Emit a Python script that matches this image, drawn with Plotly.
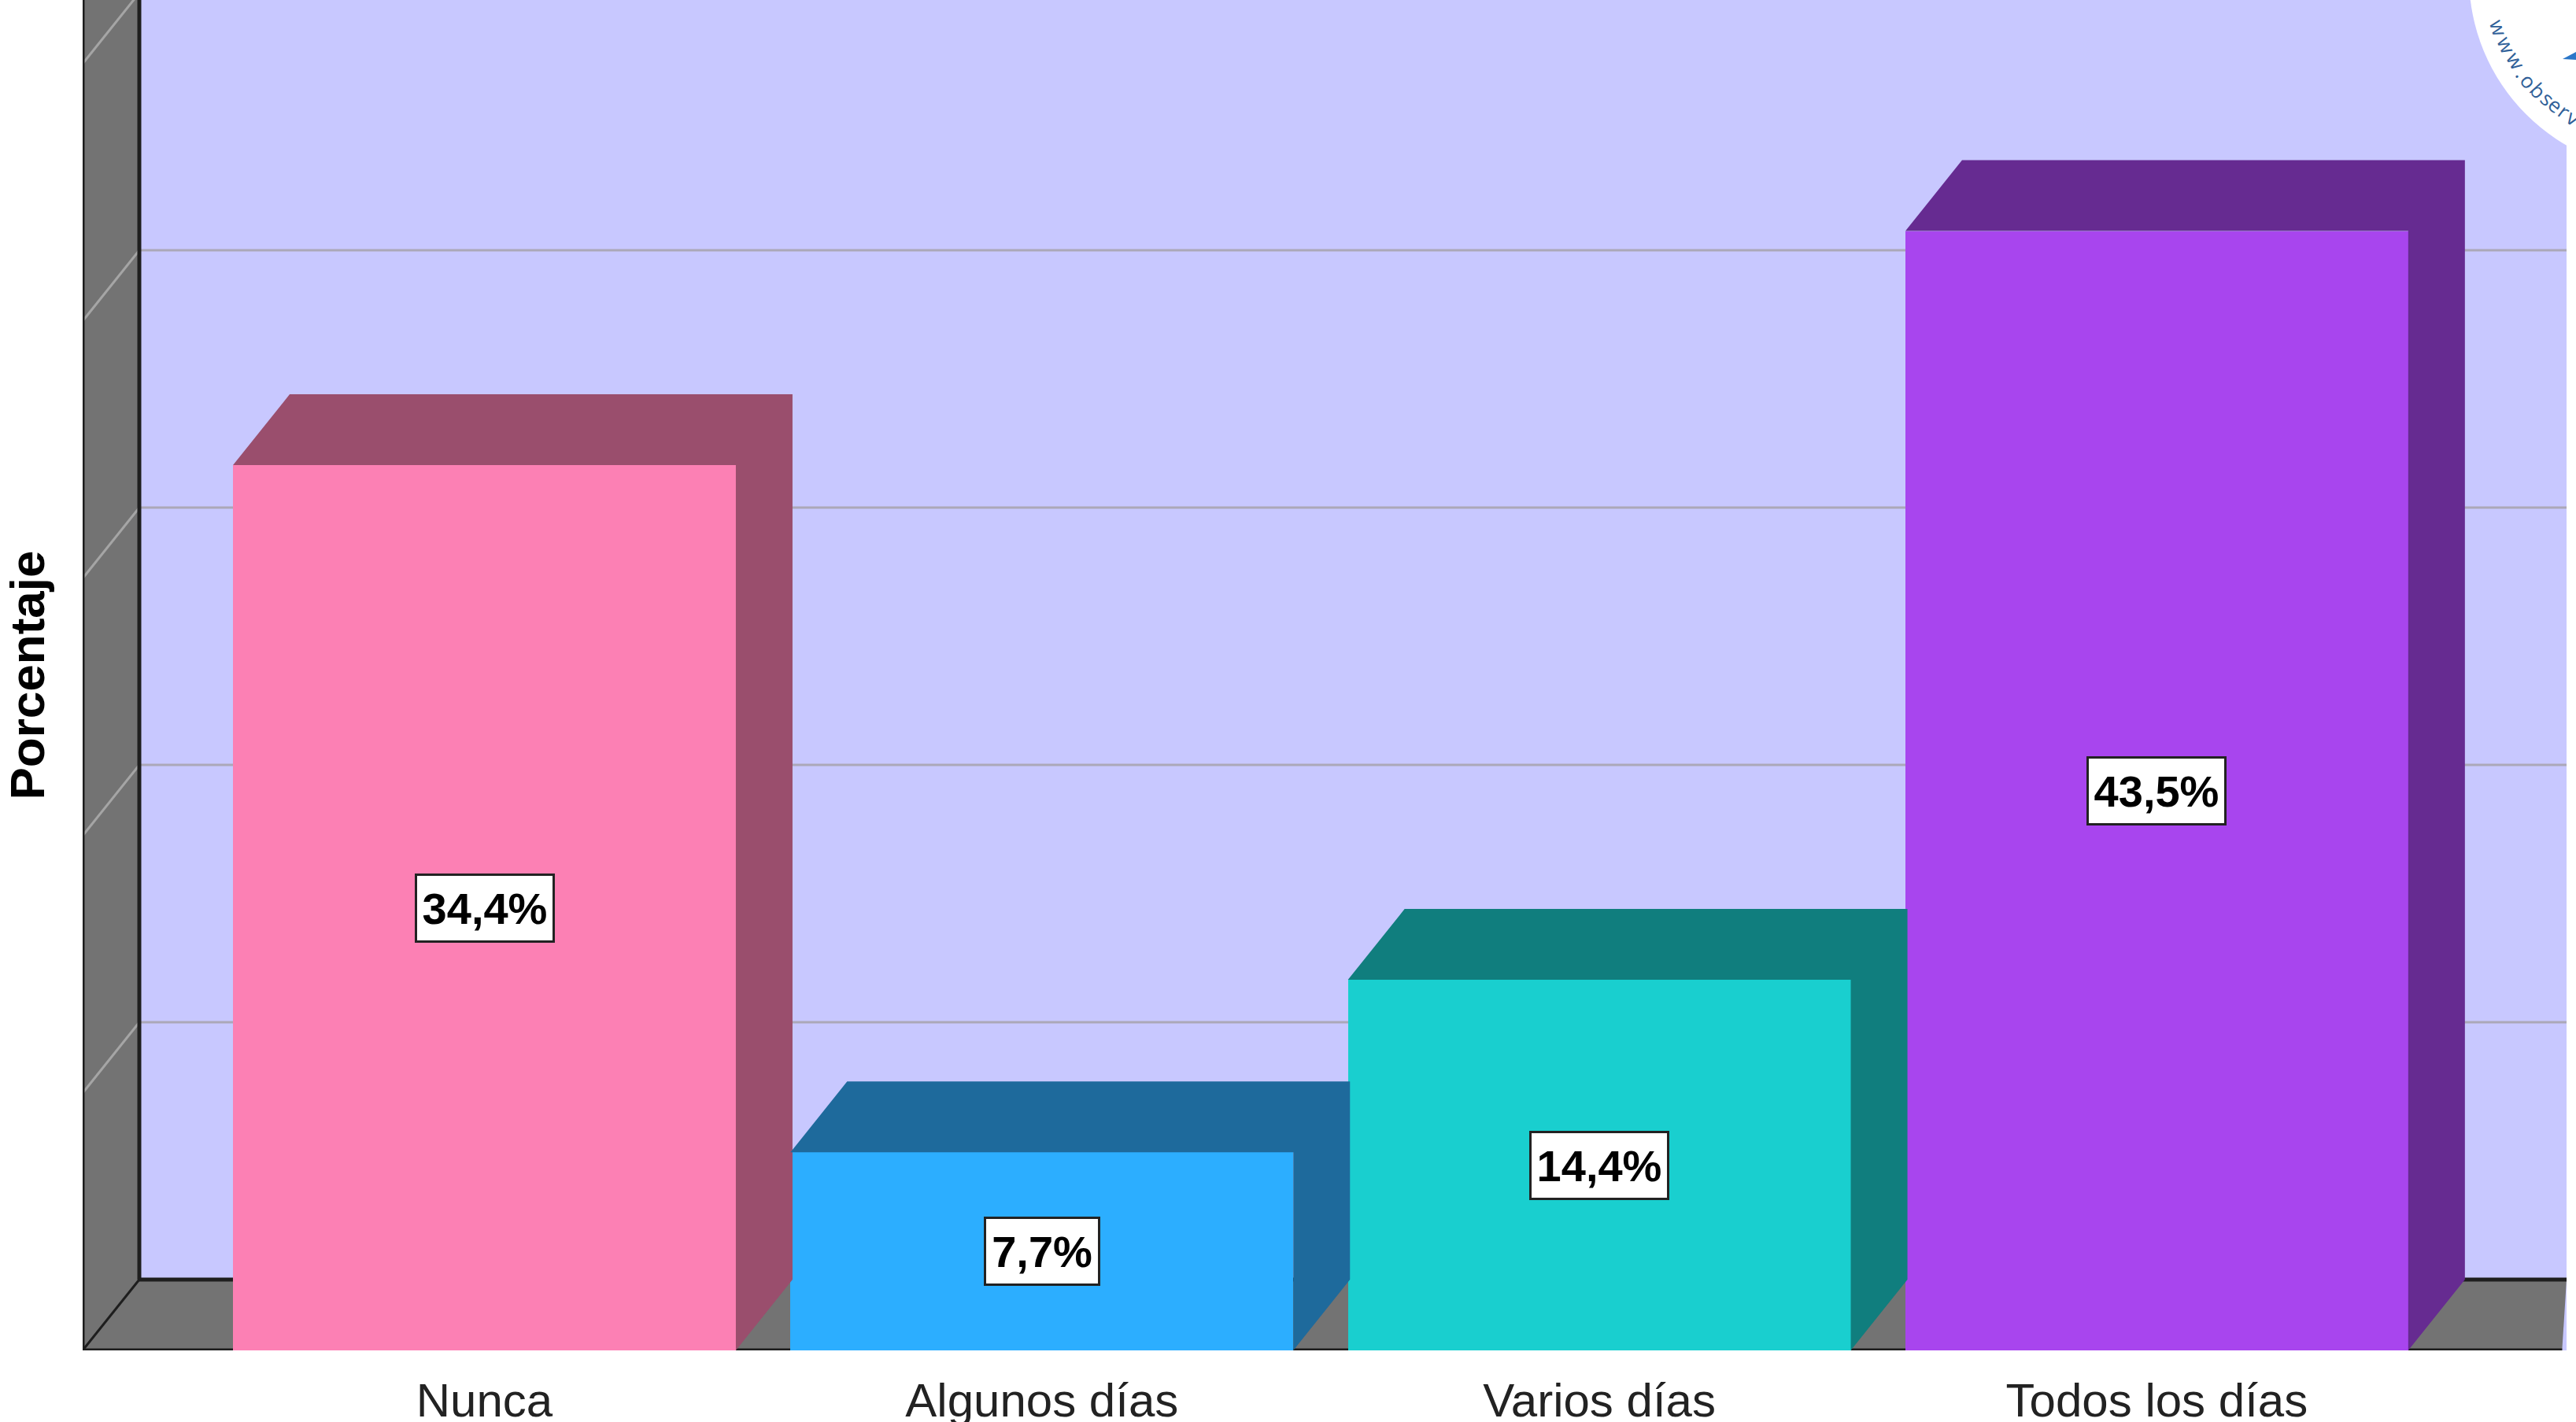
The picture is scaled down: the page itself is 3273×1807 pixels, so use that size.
"""
Bar chart with a fake 3D look: frequency of days, in percent.
"""

import math

import plotly.graph_objects as go

categories = ["Nunca", "Algunos días", "Varios días", "Todos los días"]
values = [34.4, 7.7, 14.4, 43.5]
value_labels = ["34,4%", "7,7%", "14,4%", "43,5%"]
grid_values = [10, 20, 30, 40]

front_colors = ["#FC80B4", "#2CAEFF", "#19CFCF", "#A845EE"]
shade_colors = ["#9A4E6D", "#1E6A9C", "#107E7E", "#662B91"]

WIDTH, HEIGHT = 3273, 1807
LEFT, RIGHT, BOTTOM = 105, 3261, 1716
PX_PER_PCT = 32.7
SLOT = 708.3
FIRST_CENTER = 615.5
BAR_WIDTH = 0.902
DX_PX, DY_PX = 72, 90
WALL = "#737373"
LINE = "#1E1E1E"

dx = DX_PX / SLOT
dy = DY_PX / PX_PER_PCT
x_min = (LEFT - FIRST_CENTER) / SLOT
x_max = (RIGHT - FIRST_CENTER) / SLOT
y_max = BOTTOM / PX_PER_PCT


def px_x(px):
    return (px - FIRST_CENTER) / SLOT


def px_y(py):
    return (BOTTOM - py) / PX_PER_PCT


def paper_x(px):
    return (px - LEFT) / (RIGHT - LEFT)


def paper_y(py):
    return (BOTTOM - py) / BOTTOM


def poly(points):
    return "M" + " L".join(f"{x},{y}" for x, y in points) + " Z"


fig = go.Figure()

# ── Walls and floor ──────────────────────────────────────────
shapes = [
    dict(type="path", path=poly([(x_min, 0), (x_min + dx, dy), (x_min + dx, y_max), (x_min, y_max)]),
         fillcolor=WALL, line_width=0, layer="below"),
    dict(type="path", path=poly([(x_min, 0), (x_min + dx, dy), (x_max, dy), (x_max - 0.008, 0)]),
         fillcolor=WALL, line_width=0, layer="below"),
]
for v in grid_values:
    shapes.append(dict(type="line", x0=x_min + dx, x1=x_max, y0=v + dy, y1=v + dy,
                       line=dict(color="#ABA8B8", width=3), layer="below"))
    shapes.append(dict(type="line", x0=x_min, x1=x_min + dx, y0=v, y1=v + dy,
                       line=dict(color="#A5A5A5", width=3), layer="below"))
# the wall ticks run on above the top of the picture
shapes.append(dict(type="line", x0=x_min, x1=x_min + dx, y0=50, y1=50 + dy,
                   line=dict(color="#A5A5A5", width=3), layer="below"))
for x0, y0, x1, y1, w in [
    (x_min, 0, x_min, y_max, 5),
    (x_min + dx, dy, x_min + dx, y_max, 5),
    (x_min, 0, x_min + dx, dy, 3),
    (x_min + dx, dy, x_max, dy, 5),
    (x_min, 0, x_max - 0.008, 0, 5),
]:
    shapes.append(dict(type="line", x0=x0, x1=x1, y0=y0, y1=y1,
                       line=dict(color=LINE, width=w), layer="below"))

# ── Bars ─────────────────────────────────────────────────────
fig.add_trace(
    go.Bar(
        x=list(range(len(categories))),
        y=values,
        width=BAR_WIDTH,
        marker=dict(color=front_colors, line_width=0),
        showlegend=False,
    )
)
for i, v in enumerate(values):
    l, r = i - BAR_WIDTH / 2, i + BAR_WIDTH / 2
    fig.add_trace(
        go.Scatter(
            x=[l, l + dx, r + dx, r + dx, r, r, l],
            y=[v, v + dy, v + dy, dy, 0, v, v],
            mode="lines",
            fill="toself",
            fillcolor=shade_colors[i],
            line=dict(width=0),
            showlegend=False,
        )
    )

# ── Value labels ─────────────────────────────────────────────
annotations = []
for i, v in enumerate(values):
    annotations.append(
        dict(
            x=i,
            y=v / 2,
            text=f"<b>{value_labels[i]}</b>",
            showarrow=False,
            font=dict(family="Liberation Sans", size=56, color="black"),
            bgcolor="white",
            bordercolor="#222222",
            borderwidth=3,
            borderpad=3,
            width=30 * len(value_labels[i]) + 16,
            height=76,
        )
    )

# ── Watermark stamp in the corner ────────────────────────────
CX, CY, R_STAMP = 3385, -30, 248
shapes.append(dict(type="circle", x0=px_x(CX - R_STAMP), x1=px_x(CX + R_STAMP),
                   y0=px_y(CY + R_STAMP), y1=px_y(CY - R_STAMP),
                   fillcolor="white", line_width=0, layer="above"))
shapes.append(dict(type="path", xref="paper", yref="paper",
                   path=poly([(paper_x(3256), paper_y(75)), (paper_x(3273), paper_y(66)),
                              (paper_x(3273), paper_y(76))]),
                   fillcolor="#2A76C8", line_width=0, layer="above"))
stamp_text = "www.observ"
stamp_xy = [(3175, 35), (3185, 57), (3197, 77), (3205, 92), (3213, 103),
            (3225, 115), (3237, 125), (3247, 133), (3258, 141), (3269, 149)]
for ch, (sx, sy) in zip(stamp_text, stamp_xy):
    angle = math.degrees(math.atan2(CX - sx, sy - CY))
    annotations.append(
        dict(
            xref="paper",
            yref="paper",
            xanchor="center",
            yanchor="middle",
            x=paper_x(sx),
            y=paper_y(sy),
            text=ch,
            textangle=angle,
            showarrow=False,
            font=dict(family="Open Sans", size=26, color="#2F6098"),
        )
    )

fig.update_layout(
    width=WIDTH,
    height=HEIGHT,
    margin=dict(l=LEFT, r=WIDTH - RIGHT, t=0, b=HEIGHT - BOTTOM, pad=0),
    paper_bgcolor="white",
    plot_bgcolor="#C8C8FF",
    shapes=shapes,
    annotations=annotations,
    bargap=0,
    xaxis=dict(
        range=[x_min, x_max],
        tickmode="array",
        tickvals=list(range(len(categories))),
        ticktext=categories,
        ticks="",
        ticklabelstandoff=23,
        tickfont=dict(family="Liberation Sans", size=60, color="#222222"),
        showgrid=False,
        zeroline=False,
        showline=False,
        automargin=False,
    ),
    yaxis=dict(
        range=[0, y_max],
        showticklabels=False,
        ticks="",
        showgrid=False,
        zeroline=False,
        showline=False,
        automargin=False,
        title=dict(
            text="<b>Porcentaje</b>",
            font=dict(family="Liberation Sans", size=62, color="black"),
            standoff=30,
        ),
    ),
)

# body has a default margin that would shift the whole chart
fig.write_html(
    "out.html",
    config={"displayModeBar": False},
    post_script="document.body.style.margin = '0';",
)
